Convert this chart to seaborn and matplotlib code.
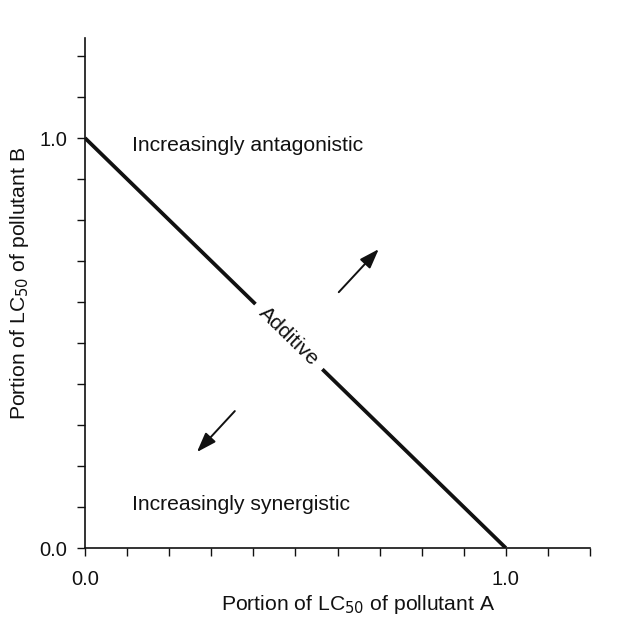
import matplotlib
matplotlib.use("Agg")
import matplotlib.pyplot as plt
import seaborn as sns
import numpy as np
import pandas as pd

# Data
additive_x = [0.0, 1.0]
additive_y = [1.0, 0.0]
tick_values = [round(0.1 * i, 1) for i in range(13)]
x_tick_labels = {0.0: "0.0", 1.0: "1.0"}
y_tick_labels = {0.0: "0.0", 1.0: "1.0"}
region_labels = ["Increasingly antagonistic", "Increasingly synergistic"]
region_pos = [(0.112, 0.983), (0.112, 0.105)]
arrow_up = [(0.603, 0.624), (0.698, 0.729)]
arrow_down = [(0.356, 0.334), (0.266, 0.234)]

sns.set_theme(style="ticks")
plt.rcParams['font.family'] = ['Liberation Sans', 'DejaVu Sans']

INK = "#111111"
FS = 15.2

fig = plt.figure(figsize=(6.24, 6.2), dpi=100)
ax = fig.add_axes([85/624, 72/620, 505/624, 510/620])

df = pd.DataFrame({"A": additive_x, "B": additive_y})
sns.lineplot(data=df, x="A", y="B", ax=ax, color=INK, linewidth=2.7,
             solid_capstyle="butt", sort=False)

ax.set_xlim(0, 1.2)
ax.set_ylim(0, 1.244)
ax.set_xticks(tick_values)
ax.set_xticklabels([x_tick_labels.get(v, "") for v in tick_values])
yt = [v for v in tick_values if v <= 1.2]
ax.set_yticks(yt)
ax.set_yticklabels([y_tick_labels.get(v, "") for v in yt])
ax.tick_params(axis="both", direction="out", length=6, width=1, color=INK,
               labelsize=14.5, labelcolor=INK)
ax.tick_params(axis="x", pad=10)
ax.tick_params(axis="y", pad=7)
for s in ["top", "right"]:
    ax.spines[s].set_visible(False)
for s in ["left", "bottom"]:
    ax.spines[s].set_color(INK)
    ax.spines[s].set_linewidth(1.2)

ax.set_xlabel("Portion of LC$_{50}$ of pollutant A", fontsize=FS, color=INK)
ax.set_ylabel("Portion of LC$_{50}$ of pollutant B", fontsize=FS, color=INK)
ax.xaxis.set_label_coords(0.541, -0.088)
ax.yaxis.set_label_coords(-0.106, 0.518)

# Additive label on the line
p0 = ax.transData.transform((0, 1))
p1 = ax.transData.transform((1, 0))
ang = np.degrees(np.arctan2(p1[1] - p0[1], p1[0] - p0[0]))
ax.text(0.485, 0.516, "Additive", rotation=ang, rotation_mode="anchor",
        ha="center", va="center", fontsize=FS, color=INK,
        bbox=dict(facecolor="white", edgecolor="none", pad=6.5))

for lab, (x, y) in zip(region_labels, region_pos):
    ax.text(x, y, lab, ha="left", va="center", fontsize=FS, color=INK)

for (x0, y0), (x1, y1) in [arrow_up, arrow_down]:
    ax.annotate("", xy=(x1, y1), xytext=(x0, y0),
                arrowprops=dict(arrowstyle="-|>,head_length=1.0,head_width=0.35",
                                color=INK, lw=1.4, shrinkA=0, shrinkB=0))

fig.savefig("out.png", dpi=100)
